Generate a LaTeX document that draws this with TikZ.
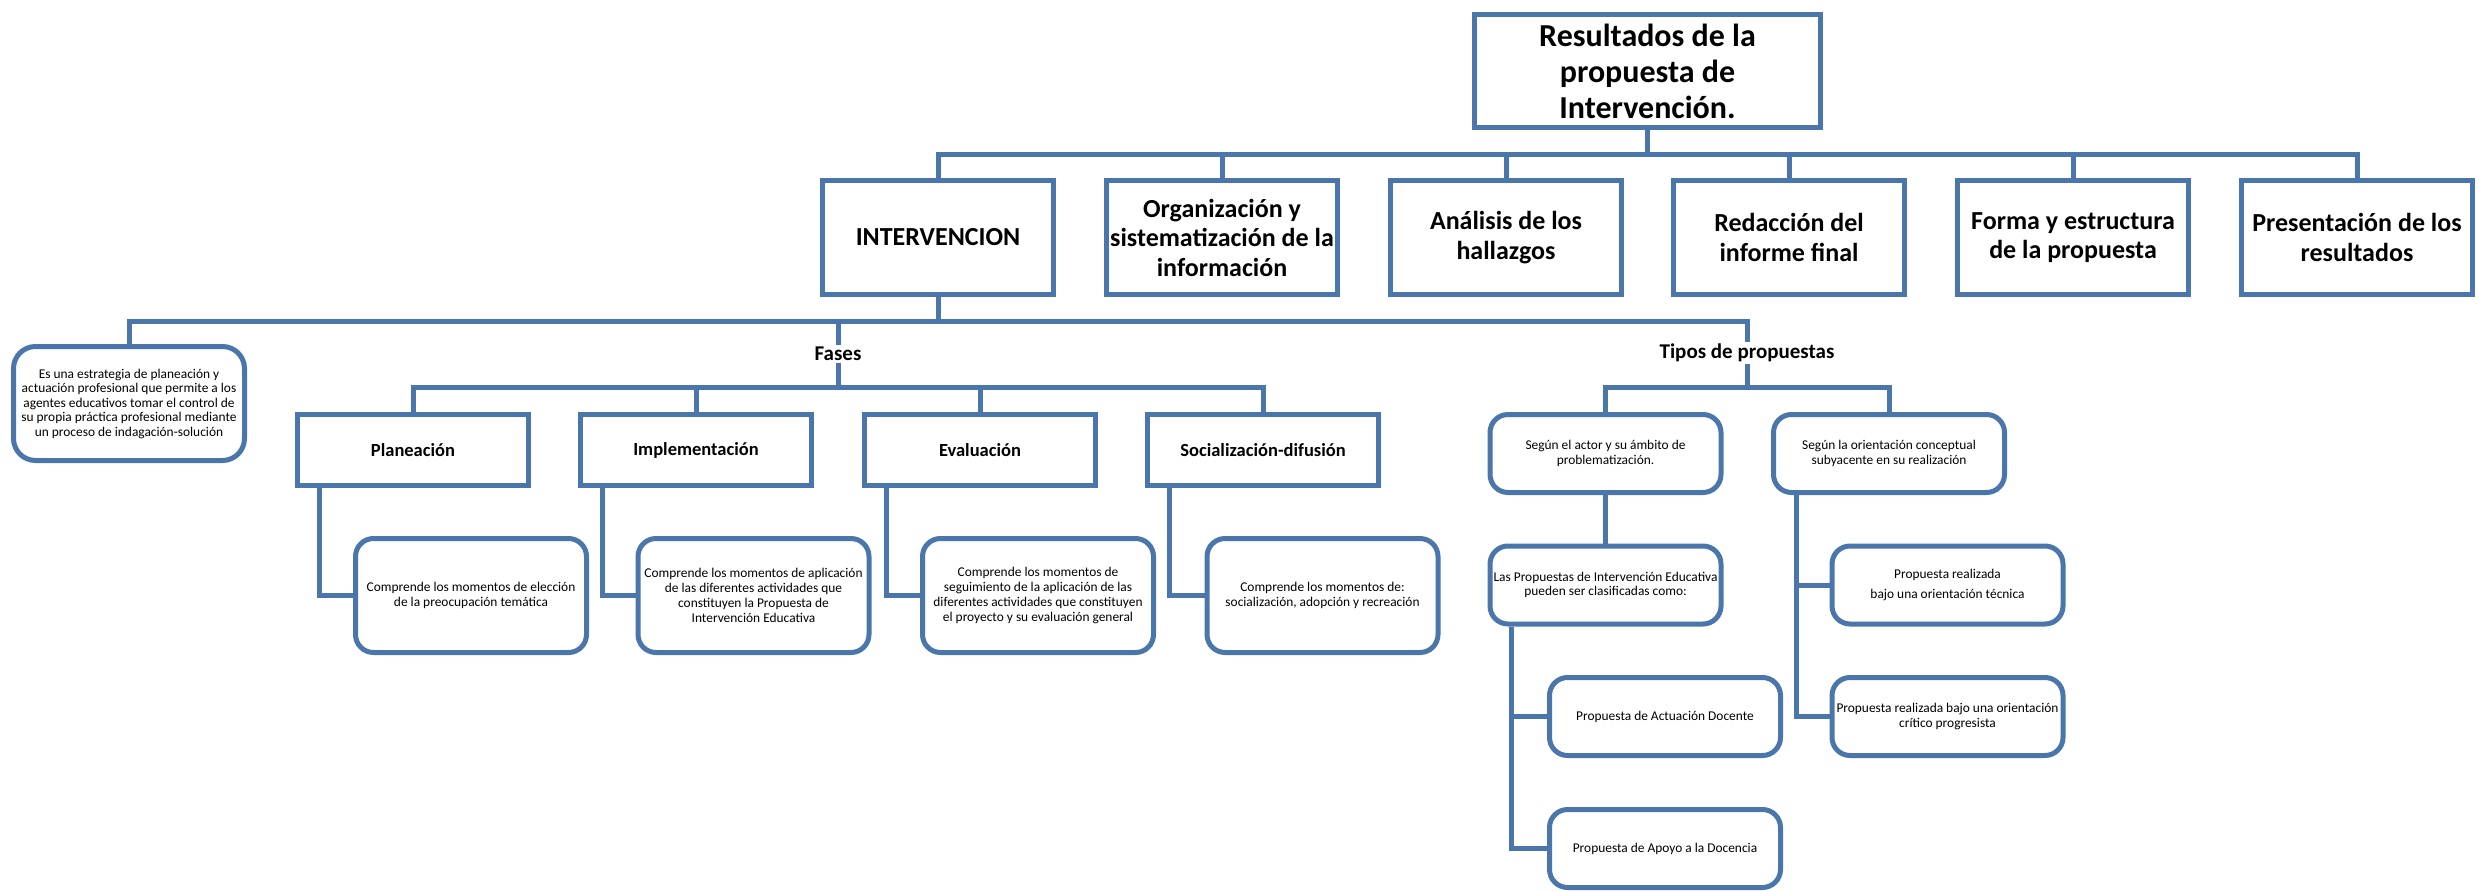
\documentclass[tikz,border=0pt]{standalone}
\usepackage{fontspec}
\setmainfont{Carlito}
\definecolor{bl}{HTML}{4A76AB}
\begin{document}
\begin{tikzpicture}[x=1pt,y=-1pt,
  conn/.style={draw=bl, line width=5pt},
  topbox/.style={draw=bl, line width=5pt, fill=white, inner sep=0pt, align=center,
     minimum width=346pt, minimum height=113pt, font=\bfseries\fontsize{32}{36}\selectfont},
  lvtwo/.style={draw=bl, line width=5pt, fill=white, inner sep=0pt, align=center,
     minimum width=231pt, minimum height=114pt, font=\bfseries\fontsize{26}{29.5}\selectfont},
  phase/.style={draw=bl, line width=5pt, fill=white, inner sep=0pt, align=center,
     minimum width=231pt, minimum height=71pt, font=\bfseries\fontsize{18.5}{22}\selectfont},
  desc/.style={draw=bl, line width=5pt, fill=white, inner sep=0pt, align=center, rounded corners=18pt,
     minimum width=231pt, minimum height=114pt, font=\fontsize{13.4}{15}\selectfont},
  tbox/.style={draw=bl, line width=5pt, fill=white, inner sep=0pt, align=center, rounded corners=18pt,
     minimum width=231pt, minimum height=78pt, font=\fontsize{13.4}{14.5}\selectfont},
  lab/.style={fill=white, inner sep=2pt, font=\bfseries\fontsize{21}{24}\selectfont}
]
\useasboundingbox (0,0) rectangle (2479,891);

% top level
\node[topbox] (top) at (1647.5,71) {Resultados de la\\propuesta de\\Intervención.};
\node[lvtwo] (n1) at (938,237.5) {INTERVENCION};
\node[lvtwo] (n2) at (1222,237.5) {Organización y\\sistematización de la\\información};
\node[lvtwo] (n3) at (1506,237.5) {Análisis de los\\hallazgos};
\node[lvtwo] (n4) at (1789,237.5) {Redacción del\\informe final};
\node[lvtwo] (n5) at (2073,237.5) {Forma y estructura\\de la propuesta};
\node[lvtwo] (n6) at (2357,237.5) {Presentación de los\\resultados};

\draw[conn] (top.south) -- ++(0,24) coordinate (bTop);
\draw[conn] (n1.north) |- (bTop -| n6.north) -- (n6.north);
\foreach \n in {n2,n3,n4,n5} \draw[conn] (bTop -| \n.north) -- (\n.north);

% intervencion level
\node[desc, rounded corners=22pt, font=\fontsize{13.4}{14.5}\selectfont] (es) at (129,403.5)
  {Es una estrategia de planeación y\\actuación profesional que permite a los\\agentes educativos tomar el control de\\su propia práctica profesional mediante\\un proceso de indagación-solución};
\node[lab] (fases) at (838,354) {Fases};
\node[lab] (tipos) at (1747,353) {Tipos de propuestas};

\draw[conn] (n1.south) -- ++(0,24) coordinate (bI);
\draw[conn] (es.north) |- (bI -| tipos.north) -- (tipos.north);
\draw[conn] (bI -| fases.north) -- (fases.north);

% fases
\node[phase] (p1) at (413,450) {Planeación};
\node[phase] (p2) at (696,450) {Implementación};
\node[phase] (p3) at (980,450) {Evaluación};
\node[phase] (p4) at (1263,450) {Socialización-difusión};
\coordinate (bF) at (838,387);
\draw[conn] (fases.south) -- (bF);
\draw[conn] (p1.north) |- (bF -| p4.north) -- (p4.north);
\foreach \n in {p2,p3} \draw[conn] (bF -| \n.north) -- (\n.north);

\node[desc] (d1) at (471,595.5) {Comprende los momentos de elección\\de la preocupación temática};
\node[desc] (d2) at (753.5,595.5) {Comprende los momentos de aplicación\\de las diferentes actividades que\\constituyen la Propuesta de\\Intervención Educativa};
\node[desc] (d3) at (1038,595.5) {Comprende los momentos de\\seguimiento de la aplicación de las\\diferentes actividades que constituyen\\el proyecto y su evaluación general};
\node[desc] (d4) at (1322.5,595.5) {Comprende los momentos de:\\socialización, adopción y recreación};
\draw[conn] ([xshift=24pt]p1.south west) |- (d1.west);
\draw[conn] ([xshift=24pt]p2.south west) |- (d2.west);
\draw[conn] ([xshift=24pt]p3.south west) |- (d3.west);
\draw[conn] ([xshift=24pt]p4.south west) |- (d4.west);

% tipos
\node[tbox] (s1) at (1605.5,453.5) {Según el actor y su ámbito de\\problematización.};
\node[tbox] (s2) at (1889,453.5) {Según la orientación conceptual\\subyacente en su realización};
\coordinate (bT) at (1747,387);
\draw[conn] (tipos.south) -- (bT);
\draw[conn] (s1.north) |- (bT -| s2.north) -- (s2.north);

\node[tbox] (lp) at (1605.5,585) {Las Propuestas de Intervención Educativa\\pueden ser clasificadas como:};
\node[tbox] (act) at (1665,716.5) {Propuesta de Actuación Docente};
\node[tbox] (apo) at (1665,848.5) {Propuesta de Apoyo a la Docencia};
\node[tbox] (tec) at (1947.5,585) {Propuesta realizada\\[6pt]bajo una orientación técnica};
\node[tbox] (cri) at (1947.5,716.5) {Propuesta realizada bajo una orientación\\crítico progresista};

\draw[conn] (s1.south) -- (lp.north);
\draw[conn] ([xshift=24pt]lp.south west) |- (act.west);
\draw[conn] ([xshift=24pt]lp.south west) |- (apo.west);
\draw[conn] ([xshift=25pt]s2.south west) |- (tec.west);
\draw[conn] ([xshift=25pt]s2.south west) |- (cri.west);
\end{tikzpicture}
\end{document}
